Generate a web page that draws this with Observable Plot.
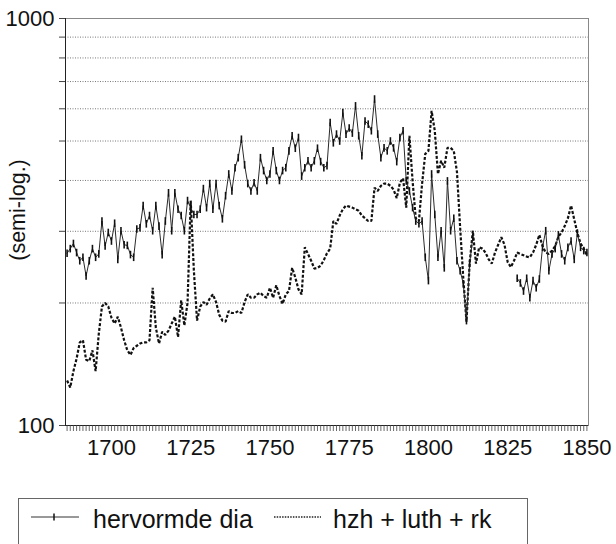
<!DOCTYPE html>
<html>
<head>
<meta charset="utf-8">
<script src="https://cdn.jsdelivr.net/npm/d3@7"></script>
<script src="https://cdn.jsdelivr.net/npm/@observablehq/plot@0.6"></script>
<style>
  html, body { margin: 0; padding: 0; width: 616px; height: 544px; overflow: hidden; background: #fff; }
  body { position: relative; font-family: "Liberation Sans", Arial, sans-serif; color: #111; }
  #chart { position: absolute; left: 0; top: 0; }
  #legend { position: absolute; left: 18px; top: 498px; width: 510px; height: 70px; border: 1px solid #666; box-sizing: border-box; }
  #legend svg { position: absolute; left: -1px; top: -1px; }
</style>
</head>
<body>
<div id="chart"></div>
<div id="legend"></div>
<script>
// ---- data ----
const years = d3.range(1686, 1851);
const seriesNames = ["hervormde dia", "hzh + luth + rk"];
const hervormde = [
  265, 272, 280, 266, 254, 259, 233, 254, 272, 259, // 1686-1695
  264, 318, 276, 298, 284, 314, 256, 301, 278, 277, // 1696-1705
  263, 259, 304, 306, 347, 313, 328, 301, 347, 309, // 1706-1715
  263, 318, 373, 301, 373, 340, 328, 301, 357, 343, // 1716-1725
  330, 330, 340, 382, 343, 393, 340, 393, 347, 322, // 1726-1735
  367, 415, 377, 430, 455, 505, 437, 393, 377, 395, // 1736-1745
  377, 455, 423, 400, 415, 473, 423, 400, 423, 430, // 1746-1755
  473, 515, 480, 510, 410, 430, 447, 430, 447, 480, // 1756-1765
  445, 430, 435, 555, 495, 520, 500, 587, 520, 538, // 1766-1775
  523, 610, 515, 460, 560, 550, 530, 634, 520, 455, // 1776-1785
  481, 473, 500, 481, 445, 510, 530, 399, 377, 343, // 1786-1795
  318, 313, 318, 259, 227, 415, 330, 259, 301, 244, // 1796-1805
  399, 301, 323, 254, 240, 223, 181, 250, 290, null, // 1806-1815
  null, null, null, null, null, null, null, null, null, null, // 1816-1825
  null, null, 230, 224, 214, 230, 206, 227, 218, 229, // 1826-1835
  274, 301, 240, 264, 272, 294, 264, 254, 274, 284, // 1836-1845
  256, 297, 274, 269, 266                              // 1846-1850
];
const hzhLuthRk = [
  129, 124, 136, 146, 160, 162, 145, 144, 153, 136, // 1686-1695
  168, 196, 200, 196, 184, 178, 185, 174, 162, 153, // 1696-1705
  149, 155, 157, 159, 160, 160, 162, 218, 174, 159, // 1706-1715
  170, 167, 171, 178, 185, 165, 203, 176, 200, 357, // 1716-1725
  240, 181, 196, 201, 198, 205, 210, 201, 187, 181, // 1726-1735
  180, 191, 189, 189, 191, 189, 201, 210, 206, 206, // 1736-1745
  210, 212, 208, 206, 218, 206, 221, 208, 199, 210, // 1746-1755
  214, 244, 231, 216, 210, 274, 264, 254, 243, 244, // 1756-1765
  247, 255, 265, 272, 318, 313, 328, 340, 347, 345, // 1766-1775
  343, 340, 337, 328, 323, 318, 318, 384, 377, 388, // 1776-1785
  393, 393, 388, 380, 362, 395, 405, 343, 515, 399, // 1786-1795
  323, 318, 393, 465, 473, 593, 530, 415, 447, 430, // 1796-1805
  481, 481, 473, 420, 307, 230, 180, 250, 301, 250, // 1806-1815
  274, 272, 266, 256, 250, 266, 278, 290, 278, 252, // 1816-1825
  245, 254, 266, 264, 262, 260, 259, 266, 278, 294, // 1826-1835
  276, 266, 264, 269, 276, 291, 298, 309, 323, 347, // 1836-1845
  321, 297, 280, 272, 262                              // 1846-1850
];
const yTickValues = [100, 200, 300, 400, 500, 600, 700, 800, 900, 1000];
const yTickLabels = [100, 1000];
const gridValues = [200, 300, 400, 500, 600, 700, 800, 900];
const xLabelYears = [1700, 1725, 1750, 1775, 1800, 1825, 1850];
const yAxisTitle = "(semi-log.)";

// vertical tick symbol for the solid series markers
const vtick = {
  draw(ctx, size) {
    const r = Math.sqrt(size / Math.PI);
    ctx.moveTo(0, -r);
    ctx.lineTo(0, r);
  }
};

const plot = Plot.plot({
  width: 616,
  height: 470,
  marginLeft: 65,
  marginRight: 28,
  marginTop: 18,
  marginBottom: 45,
  x: {domain: [1685.5, 1850.5]},
  y: {type: "log", domain: [100, 1000]},
  style: {fontFamily: "'Liberation Sans', Arial, sans-serif", fontSize: "22px", color: "#111", background: "#fff", overflow: "visible"},
  marks: [
    Plot.ruleY(gridValues, {stroke: "#555", strokeWidth: 0.8, strokeDasharray: "1,1.5"}),
    Plot.frame({stroke: "#888", strokeWidth: 1}),
    Plot.ruleX([1685.5], {stroke: "#222", strokeWidth: 1}),
    Plot.ruleY([100], {stroke: "#222", strokeWidth: 1}),
    Plot.axisY({ticks: yTickValues, tickSize: 6, tickPadding: 5, stroke: "#444", label: null,
      tickFormat: d => yTickLabels.includes(d) ? String(d) : "", fontSize: 22}),
    Plot.axisX({ticks: years, tickSize: 6, stroke: "#444", strokeWidth: 0.8, tickFormat: () => "", label: null}),
    Plot.axisX({ticks: xLabelYears, tickSize: 0, tickPadding: 14, label: null, tickFormat: d => String(d), fontSize: 22}),
    Plot.text([yAxisTitle], {frameAnchor: "left", textAnchor: "middle", rotate: -90, dx: -47, dy: -12, fontSize: 21.5, fill: "#111"}),
    Plot.line(hzhLuthRk, {x: years, y: d => d, stroke: "#111", strokeWidth: 2.2, strokeDasharray: "3,1.8", strokeLinecap: "butt", strokeLinejoin: "miter"}),
    Plot.line(hervormde, {x: years, y: d => d, stroke: "#2a2a2a", strokeWidth: 1}),
    Plot.dot(hervormde, {x: years, y: d => d, symbol: vtick, r: 3.8, fill: "none", stroke: "#111", strokeWidth: 1.6})
  ]
});
document.getElementById("chart").appendChild(plot);

// legend
const lg = d3.select("#legend").append("svg").attr("width", 512).attr("height", 46)
  .style("font-family", "'Liberation Sans', Arial, sans-serif");
lg.append("line").attr("x1", 13).attr("x2", 61).attr("y1", 19).attr("y2", 19).attr("stroke", "#333").attr("stroke-width", 1);
lg.append("line").attr("x1", 36).attr("x2", 36).attr("y1", 15.5).attr("y2", 22.5).attr("stroke", "#111").attr("stroke-width", 1.5);
lg.append("text").attr("x", 75).attr("y", 29.5).attr("font-size", 25).attr("fill", "#111").text(seriesNames[0]);
lg.append("line").attr("x1", 256).attr("x2", 303).attr("y1", 19).attr("y2", 19).attr("stroke", "#222").attr("stroke-width", 1.3).attr("stroke-dasharray", "1.5,1.2");
lg.append("text").attr("x", 315).attr("y", 29.5).attr("font-size", 25).attr("fill", "#111").text(seriesNames[1]);
</script>
</body>
</html>
